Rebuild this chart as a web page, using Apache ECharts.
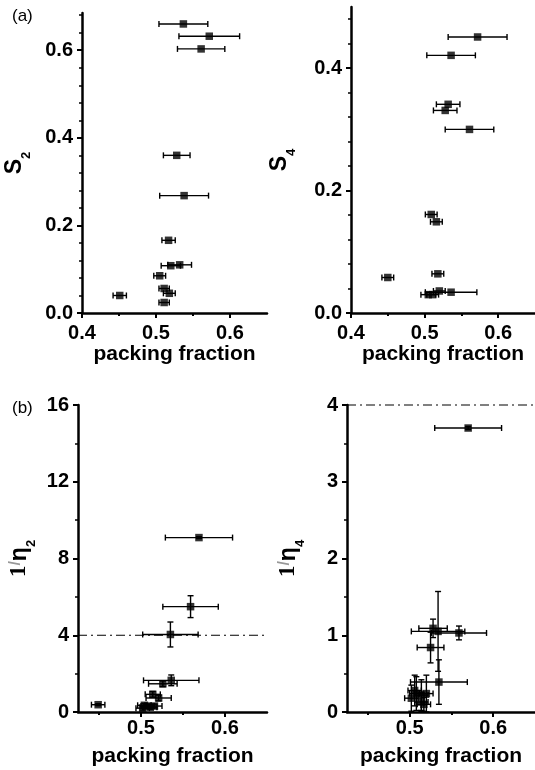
<!DOCTYPE html>
<html>
<head>
<meta charset="utf-8">
<script src="https://cdn.jsdelivr.net/npm/echarts@6/dist/echarts.min.js"></script>
<style>
  html, body { margin: 0; padding: 0; background: #fff; }
  #main { width: 535px; height: 770px; }
</style>
</head>
<body>
<div id="main"></div>
<script>
// (a) left: S2 against packing fraction
var s2Phi    = [0.537, 0.572, 0.561, 0.528, 0.538, 0.517, 0.532, 0.520, 0.505, 0.511, 0.518, 0.451, 0.511];
var s2PhiErr = [0.033, 0.041, 0.032, 0.018, 0.033, 0.009, 0.016, 0.013, 0.008, 0.007, 0.008, 0.009, 0.007];
var s2Val    = [0.660, 0.632, 0.603, 0.360, 0.268, 0.166, 0.110, 0.108, 0.085, 0.056, 0.045, 0.040, 0.024];

// (a) right: S4
var s4Phi    = [0.572, 0.536, 0.532, 0.528, 0.561, 0.509, 0.516, 0.518, 0.536, 0.520, 0.505, 0.511, 0.450];
var s4PhiErr = [0.040, 0.033, 0.016, 0.016, 0.033, 0.008, 0.008, 0.008, 0.035, 0.008, 0.010, 0.008, 0.008];
var s4Val    = [0.451, 0.421, 0.341, 0.331, 0.300, 0.161, 0.149, 0.064, 0.034, 0.036, 0.030, 0.030, 0.058];

// (b) left: 1/eta2
var eta2Phi    = [0.569, 0.559, 0.535, 0.536, 0.526, 0.514, 0.521, 0.504, 0.449, 0.508, 0.516, 0.502, 0.511];
var eta2PhiErr = [0.040, 0.033, 0.033, 0.033, 0.017, 0.009, 0.015, 0.008, 0.008, 0.008, 0.009, 0.008, 0.008];
var eta2Val    = [9.09, 5.49, 4.04, 1.65, 1.47, 0.92, 0.73, 0.35, 0.38, 0.31, 0.31, 0.20, 0.25];
var eta2ValErr = [0.05, 0.57, 0.65, 0.28, 0.15, 0.15, 0.15, 0.10, 0.05, 0.10, 0.10, 0.10, 0.10];

// (b) right: 1/eta4
var eta4Phi    = [0.570, 0.528, 0.534, 0.559, 0.525, 0.535, 0.502, 0.508, 0.514, 0.520, 0.514, 0.506, 0.517];
var eta4PhiErr = [0.040, 0.017, 0.032, 0.033, 0.016, 0.034, 0.008, 0.008, 0.008, 0.008, 0.008, 0.008, 0.008];
var eta4Val    = [3.70, 1.09, 1.05, 1.03, 0.84, 0.39, 0.18, 0.24, 0.22, 0.24, 0.13, 0.28, 0.10];
var eta4ValErr = [0.02, 0.12, 0.52, 0.09, 0.20, 0.29, 0.17, 0.22, 0.20, 0.24, 0.12, 0.20, 0.09];

// tick labels
var xTicksTop = [0.4, 0.5, 0.6];
var xTicksBottom = [0.5, 0.6];
var yTicksS2 = [0, 0.2, 0.4, 0.6];
var yTicksS4 = [0, 0.2, 0.4];
var yTicksEta2 = [0, 4, 8, 12, 16];
var yTicksEta4 = [0, 1, 2, 3, 4];
var xMinor = [0.45, 0.55];
var yMinorS2 = [0.04, 0.08, 0.12, 0.16, 0.24, 0.28, 0.32, 0.36, 0.44, 0.48, 0.52, 0.56, 0.64, 0.68];
var yMinorS4 = [0.04, 0.08, 0.12, 0.16, 0.24, 0.28, 0.32, 0.36, 0.44, 0.48];
var yMinorEta2 = [2, 6, 10, 14];
var yMinorEta4 = [0.5, 1.5, 2.5, 3.5];
var refLevel = 4;

var FONT = '"Liberation Sans", Arial, sans-serif';
var chart = echarts.init(document.getElementById('main'));

var grids = [
    { left: 82, top: 13, width: 185, height: 300 },
    { left: 351, top: 7, width: 184, height: 306 },
    { left: 78, top: 405, width: 189, height: 307 },
    { left: 347, top: 405, width: 188, height: 307 }
];
grids.forEach(function (g) { g.outerBoundsMode = 'none'; g.containLabel = false; });

var labelStyle = { color: '#000', fontFamily: FONT, fontWeight: 'bold', fontSize: 20 };
var lineStyle = { color: '#000', width: 2.5 };

function mainX(gi, min, max, ticks, margin, nameGap) {
    return {
        type: 'value', gridIndex: gi, min: min, max: max,
        splitLine: { show: false },
        axisLine: { onZero: false, lineStyle: lineStyle },
        axisTick: { inside: false, length: 5, customValues: ticks, lineStyle: { width: 2, color: '#000' } },
        axisLabel: Object.assign({ customValues: ticks, margin: margin,
            formatter: function (v) { return v.toFixed(1); } }, labelStyle),
        name: 'packing fraction', nameLocation: 'middle', nameGap: nameGap,
        nameTextStyle: { color: '#000', fontFamily: FONT, fontWeight: 'bold', fontSize: 21 }
    };
}
function minorX(gi, min, max) {
    return {
        type: 'value', gridIndex: gi, min: min, max: max, position: 'bottom',
        splitLine: { show: false }, axisLine: { show: false }, axisLabel: { show: false },
        axisTick: { length: 3, customValues: xMinor, lineStyle: { width: 2, color: '#000' } }
    };
}
function mainY(gi, max, ticks, digits, name, nameGap, rich) {
    return {
        type: 'value', gridIndex: gi, min: 0, max: max,
        splitLine: { show: false },
        axisLine: { onZero: false, lineStyle: lineStyle },
        axisTick: { length: 5, customValues: ticks, lineStyle: { width: 2, color: '#000' } },
        axisLabel: Object.assign({ customValues: ticks, margin: 9,
            formatter: function (v) { return v.toFixed(digits); } }, labelStyle),
        name: name, nameLocation: 'middle', nameGap: nameGap, nameRotate: 90,
        nameTextStyle: { color: '#000', fontFamily: FONT, fontWeight: 'bold', fontSize: 24, rich: rich }
    };
}
function minorY(gi, max, minors) {
    return {
        type: 'value', gridIndex: gi, min: 0, max: max, position: 'left',
        splitLine: { show: false }, axisLine: { show: false }, axisLabel: { show: false },
        axisTick: { length: 3, customValues: minors, lineStyle: { width: 1.5, color: '#000' } }
    };
}

var sRich = {
    s: { fontFamily: FONT, fontWeight: 'bold', fontSize: 23, lineHeight: 30, verticalAlign: 'top' },
    sub: { fontFamily: FONT, fontWeight: 'bold', fontSize: 13, lineHeight: 30, verticalAlign: 'bottom' }
};
var etaRich = {
    one: { fontFamily: '"Liberation Serif", serif', fontSize: 23, lineHeight: 30, verticalAlign: 'top' },
    sl: { fontFamily: FONT, color: '#999', fontSize: 16, lineHeight: 30, verticalAlign: 'top' },
    eta: { fontFamily: FONT, fontWeight: 'bold', fontSize: 23, lineHeight: 30, verticalAlign: 'top' },
    sub: { fontFamily: FONT, fontWeight: 'bold', fontSize: 13, lineHeight: 30, verticalAlign: 'bottom' }
};

var xAxes = [
    mainX(0, 0.4, 0.65, xTicksTop, 10, 27),
    mainX(1, 0.4, 0.65, xTicksTop, 10, 27),
    mainX(2, 0.425, 0.65, xTicksBottom, 6, 34),
    mainX(3, 0.425, 0.65, xTicksBottom, 6, 34),
    minorX(0, 0.4, 0.65), minorX(1, 0.4, 0.65), minorX(2, 0.425, 0.65), minorX(3, 0.425, 0.65)
];
var yAxes = [
    mainY(0, 0.685, yTicksS2, 1, '{s|S}{sub|2}', 49, sRich),
    mainY(1, 0.5, yTicksS4, 1, '{s|S}{sub|4}', 53, sRich),
    mainY(2, 16, yTicksEta2, 0, '{one|1}{sl|/}{eta|η}{sub|2}', 40, etaRich),
    mainY(3, 4, yTicksEta4, 0, '{one|1}{sl|/}{eta|η}{sub|4}', 40, etaRich),
    minorY(0, 0.685, yMinorS2), minorY(1, 0.5, yMinorS4), minorY(2, 16, yMinorEta2), minorY(3, 4, yMinorEta4)
];

function errorBars(gi, xs, ys, xe, ye) {
    var data = xs.map(function (x, i) { return [x, ys[i], xe[i], ye ? ye[i] : 0]; });
    return {
        type: 'custom', xAxisIndex: gi, yAxisIndex: gi, data: data, clip: false, z: 3,
        renderItem: function (params, api) {
            var x = api.value(0), y = api.value(1), ex = api.value(2), ey = api.value(3);
            var st = { stroke: '#000', lineWidth: 1.4 };
            var cap = 3;
            var kids = [];
            if (ex > 0) {
                var l = api.coord([x - ex, y]), r = api.coord([x + ex, y]);
                kids.push({ type: 'line', shape: { x1: l[0], y1: l[1], x2: r[0], y2: r[1] }, style: st });
                kids.push({ type: 'line', shape: { x1: l[0], y1: l[1] - cap, x2: l[0], y2: l[1] + cap }, style: st });
                kids.push({ type: 'line', shape: { x1: r[0], y1: r[1] - cap, x2: r[0], y2: r[1] + cap }, style: st });
            }
            if (ey > 0) {
                var t = api.coord([x, y + ey]), b = api.coord([x, y - ey]);
                kids.push({ type: 'line', shape: { x1: t[0], y1: t[1], x2: b[0], y2: b[1] }, style: st });
                kids.push({ type: 'line', shape: { x1: t[0] - cap, y1: t[1], x2: t[0] + cap, y2: t[1] }, style: st });
                kids.push({ type: 'line', shape: { x1: b[0] - cap, y1: b[1], x2: b[0] + cap, y2: b[1] }, style: st });
            }
            return { type: 'group', children: kids };
        }
    };
}
function points(gi, xs, ys) {
    return {
        type: 'scatter', xAxisIndex: gi, yAxisIndex: gi, symbol: 'rect', symbolSize: 7.5, z: 4,
        itemStyle: { color: '#000' },
        data: xs.map(function (x, i) { return [x, ys[i]]; })
    };
}
function refLine(gi, x0, x1) {
    return {
        type: 'line', xAxisIndex: gi, yAxisIndex: gi, clip: false, symbol: 'none', silent: true,
        lineStyle: { color: '#000', width: 1, type: [9, 4, 2, 4] },
        data: [[x0, refLevel], [x1, refLevel]]
    };
}

var option = {
    backgroundColor: '#fff',
    animation: false,
    title: [
        { text: '(a)', left: 7, top: 3, textStyle: { fontFamily: FONT, fontWeight: 'normal', fontSize: 17, color: '#000' } },
        { text: '(b)', left: 7, top: 395, textStyle: { fontFamily: FONT, fontWeight: 'normal', fontSize: 17, color: '#000' } }
    ],
    grid: grids,
    xAxis: xAxes,
    yAxis: yAxes,
    series: [
        errorBars(0, s2Phi, s2Val, s2PhiErr), points(0, s2Phi, s2Val),
        errorBars(1, s4Phi, s4Val, s4PhiErr), points(1, s4Phi, s4Val),
        refLine(2, 0.425, 0.662),
        errorBars(2, eta2Phi, eta2Val, eta2PhiErr, eta2ValErr), points(2, eta2Phi, eta2Val),
        refLine(3, 0.425, 0.65),
        errorBars(3, eta4Phi, eta4Val, eta4PhiErr, eta4ValErr), points(3, eta4Phi, eta4Val)
    ]
};

chart.setOption(option);
</script>
</body>
</html>
